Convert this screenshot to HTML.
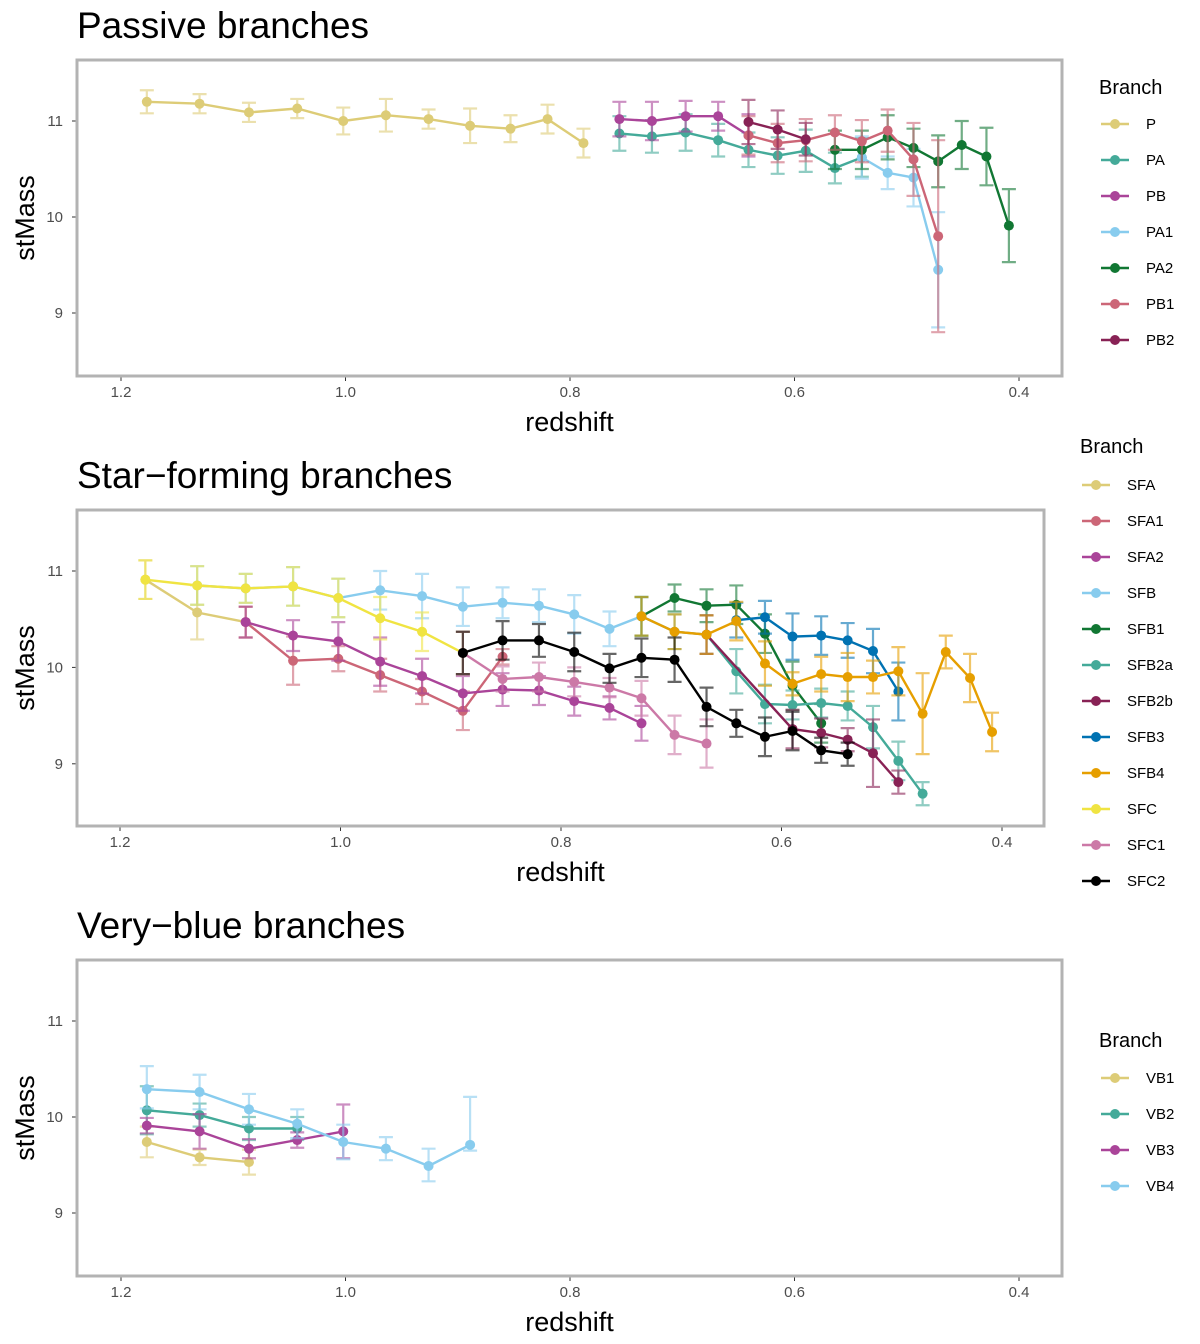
<!DOCTYPE html>
<html><head><meta charset="utf-8"><style>
body{margin:0;background:#fff}
svg{display:block;font-family:"Liberation Sans",Arial,sans-serif}
</style></head><body>
<svg id="chart" width="1200" height="1344" viewBox="0 0 1200 1344" xmlns="http://www.w3.org/2000/svg"></svg>
<script>
// redshift bins
const zGrid = [1.177,1.130,1.086,1.043,1.002,0.964,0.926,0.889,0.853,0.820,0.788,0.756,0.727,0.697,0.668,0.641,0.615,0.590,0.564,0.540,0.517,0.494,0.472,0.451,0.429,0.409];
const xTicks = [1.2,1.0,0.8,0.6,0.4];
const xTickLabels = ["1.2","1.0","0.8","0.6","0.4"];
const yTicks = [11,10,9];
const yTickLabels = ["11","10","9"];

const passiveSeries = [
 {name:"P",color:"#DDCC77",idx:[0,1,2,3,4,5,6,7,8,9,10],val:[11.20,11.18,11.09,11.13,11.00,11.06,11.02,10.95,10.92,11.02,10.77],err:[0.12,0.10,0.10,0.10,0.14,0.17,0.10,0.18,0.14,0.15,0.15]},
 {name:"PA",color:"#44AA99",idx:[11,12,13,14,15,16,17,18,19],val:[10.87,10.84,10.88,10.80,10.70,10.64,10.69,10.51,10.62],err:[0.18,0.17,0.19,0.17,0.18,0.19,0.22,0.16,0.20]},
 {name:"PB",color:"#AA4499",idx:[11,12,13,14,15],val:[11.02,11.00,11.05,11.05,10.85],err:[0.18,0.20,0.16,0.15,0.22]},
 {name:"PA1",color:"#88CCEE",idx:[19,20,21,22],val:[10.62,10.46,10.41,9.45],err:[0.22,0.17,0.30,0.60]},
 {name:"PA2",color:"#117733",idx:[18,19,20,21,22,23,24,25],val:[10.70,10.70,10.83,10.72,10.58,10.75,10.63,9.91],err:[0.20,0.20,0.23,0.20,0.27,0.25,0.30,0.38]},
 {name:"PB1",color:"#CC6677",idx:[15,16,17,18,19,20,21,22],val:[10.85,10.77,10.80,10.88,10.79,10.90,10.60,9.80],err:[0.20,0.20,0.22,0.18,0.22,0.22,0.38,1.0]},
 {name:"PB2",color:"#882255",idx:[15,16,17],val:[10.99,10.91,10.81],err:[0.23,0.20,0.17]}
];
const sfSeries = [
 {name:"SFA",color:"#DDCC77",idx:[0,1,2],val:[10.91,10.57,10.47],err:[0.2,0.28,0.16]},
 {name:"SFA1",color:"#CC6677",idx:[2,3,4,5,6,7,8],val:[10.47,10.07,10.09,9.92,9.75,9.55,10.11],err:[0.16,0.25,0.13,0.17,0.13,0.20,0.08]},
 {name:"SFA2",color:"#AA4499",idx:[2,3,4,5,6,7,8,9,10,11,12],val:[10.47,10.33,10.27,10.06,9.91,9.73,9.77,9.76,9.65,9.58,9.42],err:[0.16,0.16,0.2,0.25,0.18,0.18,0.17,0.15,0.15,0.12,0.18]},
 {name:"SFB",color:"#88CCEE",idx:[1,2,3,4,5,6,7,8,9,10,11,12],val:[10.85,10.82,10.84,10.72,10.80,10.74,10.63,10.67,10.64,10.55,10.40,10.53],err:[0.2,0.15,0.2,0.2,0.2,0.23,0.2,0.16,0.17,0.2,0.18,0.2]},
 {name:"SFB1",color:"#117733",idx:[12,13,14,15,16,17,18],val:[10.53,10.72,10.64,10.65,10.35,9.81,9.42],err:[0.2,0.14,0.17,0.2,0.2,0.25,0.2]},
 {name:"SFB2a",color:"#44AA99",idx:[12,13,14,15,16,17,18,19,20,21,22],val:[10.53,10.37,10.34,9.96,9.62,9.61,9.63,9.60,9.38,9.03,8.69],err:[0.2,0.18,0.2,0.23,0.2,0.15,0.15,0.15,0.22,0.2,0.12]},
 {name:"SFB2b",color:"#882255",idx:[14,17,18,19,20,21],val:[10.34,9.36,9.32,9.25,9.11,8.81],err:[0.2,0.2,0.15,0.12,0.35,0.12]},
 {name:"SFB3",color:"#0072B2",idx:[15,16,17,18,19,20,21],val:[10.49,10.52,10.32,10.33,10.28,10.17,9.75],err:[0.18,0.17,0.24,0.2,0.18,0.23,0.3]},
 {name:"SFB4",color:"#E69F00",idx:[12,13,14,15,16,17,18,19,20,21,22,23,24,25],val:[10.53,10.37,10.34,10.48,10.04,9.83,9.93,9.90,9.90,9.96,9.52,10.16,9.89,9.33],err:[0.2,0.18,0.2,0.2,0.23,0.12,0.18,0.25,0.17,0.25,0.42,0.17,0.25,0.2]},
 {name:"SFC",color:"#F0E442",idx:[0,1,2,3,4,5,6,7],val:[10.91,10.85,10.82,10.84,10.72,10.51,10.37,10.15],err:[0.2,0.2,0.15,0.2,0.2,0.22,0.2,0.22]},
 {name:"SFC1",color:"#CC79A7",idx:[7,8,9,10,11,12,13,14],val:[10.15,9.88,9.90,9.85,9.79,9.68,9.30,9.21],err:[0.22,0.13,0.15,0.15,0.1,0.18,0.2,0.25]},
 {name:"SFC2",color:"#000000",idx:[7,8,9,10,11,12,13,14,15,16,17,18,19],val:[10.15,10.28,10.28,10.16,9.99,10.10,10.08,9.59,9.42,9.28,9.34,9.14,9.10],err:[0.22,0.2,0.17,0.2,0.15,0.2,0.23,0.2,0.14,0.2,0.2,0.13,0.12]}
];
const vbSeries = [
 {name:"VB1",color:"#DDCC77",idx:[0,1,2],val:[9.74,9.58,9.53],err:[0.16,0.08,0.13]},
 {name:"VB2",color:"#44AA99",idx:[0,1,2,3],val:[10.07,10.02,9.88,9.88],err:[0.25,0.12,0.12,0.12]},
 {name:"VB3",color:"#AA4499",idx:[0,1,2,3,4],val:[9.91,9.85,9.67,9.76,9.85],err:[0.08,0.18,0.1,0.08,0.28]},
 {name:"VB4",color:"#88CCEE",idx:[0,1,2,3,4,5,6,7],val:[10.29,10.26,10.08,9.93,9.74,9.67,9.49,9.71],err:[0.24,0.18,0.16,0.15,0.18,0.12,0.18,0.5],errLo:[0.2,0.18,0.16,0.15,0.18,0.12,0.16,0.06]}
];

const NS="http://www.w3.org/2000/svg";
const svg=document.getElementById('chart');
function mk(tag,attrs,parent){const e=document.createElementNS(NS,tag);for(const k in attrs)e.setAttribute(k,attrs[k]);(parent||svg).appendChild(e);return e;}

const panels=[
 {key:"passive",title:"Passive branches",series:passiveSeries,box:[77,60,1062,376],x12:121,kx:1122.5,y11:121,ky:96,titleY:38,xTitleY:431,legX:1099,legTitleY:94,legY0:124},
 {key:"star-forming",title:"Star\u2212forming branches",series:sfSeries,box:[77,510,1044,826],x12:120,kx:1102.5,y11:571,ky:96.4,titleY:488,xTitleY:881,legX:1080,legTitleY:453,legY0:485},
 {key:"very-blue",title:"Very\u2212blue branches",series:vbSeries,box:[77,960,1062,1276],x12:121,kx:1122.5,y11:1021,ky:96,titleY:938,xTitleY:1331,legX:1099,legTitleY:1047,legY0:1078}
];

panels.forEach(p=>{
 const g=mk('g',{});
 
 
 const X=z=>p.x12+(1.2-z)*p.kx;
 const Y=v=>p.y11+(11-v)*p.ky;
 const [x0,y0,x1,y1]=p.box;
 const t=mk('text',{x:x0,y:p.titleY,'font-size':37,fill:'#000'},g);t.textContent=p.title;
 
 yTicks.forEach((v,i)=>{
  const tl=mk('text',{x:63,y:Y(v)+5,'font-size':15,fill:'#4d4d4d','text-anchor':'end'},g);tl.textContent=yTickLabels[i];
  
  mk('line',{x1:x0-5,x2:x0-1,y1:Y(v),y2:Y(v),stroke:'#333','stroke-width':1},g);
 });
 xTicks.forEach((z,i)=>{
  const tl=mk('text',{x:X(z),y:y1+21,'font-size':15,fill:'#4d4d4d','text-anchor':'middle'},g);tl.textContent=xTickLabels[i];
  
  mk('line',{x1:X(z),x2:X(z),y1:y1+1,y2:y1+5,stroke:'#333','stroke-width':1},g);
 });
 const yt=mk('text',{x:0,y:0,'font-size':27,fill:'#000','text-anchor':'middle',transform:`translate(34,${(y0+y1)/2}) rotate(-90)`},g);yt.textContent='stMass';
 
 const xt=mk('text',{x:(x0+x1)/2,y:p.xTitleY,'font-size':27,fill:'#000','text-anchor':'middle'},g);xt.textContent='redshift';
 
 p.series.forEach(s=>{
  const sg=mk('g',{},g);
  
  
  s.idx.forEach((k,i)=>{
   const lo=s.errLo?s.errLo[i]:s.err[i];
   const cx=X(zGrid[k]),t1=Y(s.val[i]+s.err[i]),b1=Y(s.val[i]-lo);
   const eb=mk('path',{d:`M${cx-7},${t1}H${cx+7}M${cx},${t1}V${b1}M${cx-7},${b1}H${cx+7}`,stroke:s.color,'stroke-width':2.2,fill:'none',opacity:0.6},sg);
   
  });
  const pts=s.idx.map((k,i)=>X(zGrid[k]).toFixed(1)+','+Y(s.val[i]).toFixed(1)).join(' ');
  const ln=mk('polyline',{points:pts,stroke:s.color,'stroke-width':2.4,fill:'none'},sg);
  
  s.idx.forEach((k,i)=>{
   const c=mk('circle',{cx:X(zGrid[k]),cy:Y(s.val[i]),r:5,fill:s.color},sg);
   
  });
 });
 const bx=mk('rect',{x:x0,y:y0,width:x1-x0,height:y1-y0,fill:'none',stroke:'#b3b3b3','stroke-width':3},g);
 
 const lg=mk('g',{},g);
 
 const lt=mk('text',{x:p.legX,y:p.legTitleY,'font-size':20,fill:'#000'},lg);lt.textContent='Branch';
 
 p.series.forEach((s,i)=>{
  const ly=p.legY0+i*36;
  const e=mk('g',{},lg);
  
  mk('line',{x1:p.legX+2,x2:p.legX+30,y1:ly,y2:ly,stroke:s.color,'stroke-width':2.4},e);
  mk('circle',{cx:p.legX+16,cy:ly,r:5,fill:s.color},e);
  const tx=mk('text',{x:p.legX+47,y:ly+5,'font-size':15,fill:'#000'},e);tx.textContent=s.name;
 });
});
</script>
</body></html>
